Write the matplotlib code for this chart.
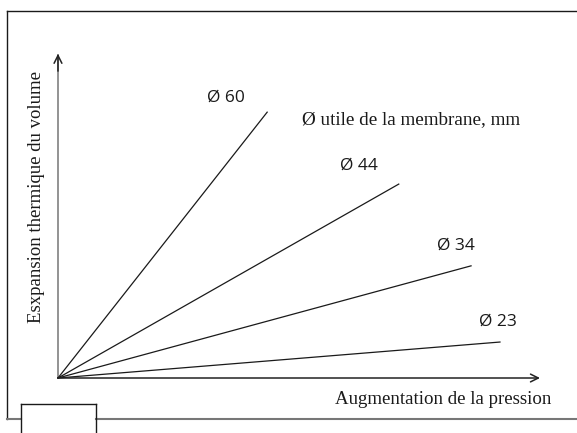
import matplotlib
matplotlib.use("Agg")
import matplotlib.pyplot as plt
from matplotlib.lines import Line2D

# diametre utile de la membrane (mm) et extremite de chaque droite
diametres = ["Ø 60", "Ø 44", "Ø 34", "Ø 23"]
pression_fin = [4.34, 7.07, 8.57, 9.17]
expansion_fin = [8.13, 5.93, 3.43, 1.10]
# position des etiquettes
label_x = [3.49, 6.24, 8.26, 9.13]
label_y = [8.56, 6.48, 4.04, 1.71]

W, H = 577, 433
fig = plt.figure(figsize=(W / 100, H / 100), dpi=100)
ax = fig.add_axes([0, 0, 1, 1])
ax.set_xlim(-1.203, 10.768)
ax.set_ylim(-1.682, 11.56)
ax.axis("off")

serif = "Liberation Serif"
sans = "Open Sans"

# axes
ax.plot([0, 0], [0, 9.9], color="#8a8a8a", lw=1.3, solid_capstyle="butt")
ax.annotate("", xy=(0, 10.0), xytext=(0, 9.3),
            arrowprops=dict(arrowstyle="->", color="#222222", lw=1.1, mutation_scale=14))
ax.annotate("", xy=(10.0, 0), xytext=(0, 0),
            arrowprops=dict(arrowstyle="->", color="#222222", lw=1.1, mutation_scale=14,
                            shrinkA=0, shrinkB=0))

for i in range(len(diametres)):
    ax.plot([0, pression_fin[i]], [0, expansion_fin[i]], color="#1a1a1a", lw=0.9)
    ax.text(label_x[i], label_y[i], diametres[i], family=sans, fontsize=12.5,
            ha="center", va="center", color="#1a1a1a")

ax.text(7.32, 7.89, "Ø utile de la membrane, mm", family=serif, fontsize=13.8,
        ha="center", va="center", color="#1a1a1a")
ax.text(8.0, -0.67, "Augmentation de la pression", family=serif, fontsize=13.6,
        ha="center", va="center", color="#1a1a1a")
ax.text(-0.456, 5.53, "Esxpansion thermique du volume", family=serif, fontsize=13.5,
        ha="center", va="center", rotation=90, color="#1a1a1a")

# cadre
def px(x0, y0, x1, y1, color="#1a1a1a", lw=1.0):
    fig.add_artist(Line2D([x0 / W, x1 / W], [1 - y0 / H, 1 - y1 / H],
                          transform=fig.transFigure, color=color, lw=lw))

px(7, 11, 577, 11)
px(7, 11, 7, 419)
px(7, 419, 21, 419, color="#777777", lw=1.5)
px(96, 419, 577, 419, color="#777777", lw=1.5)
px(21, 404, 21, 433)
px(21, 404, 96, 404)
px(96, 404, 96, 433)

fig.savefig("out.png", dpi=100)
